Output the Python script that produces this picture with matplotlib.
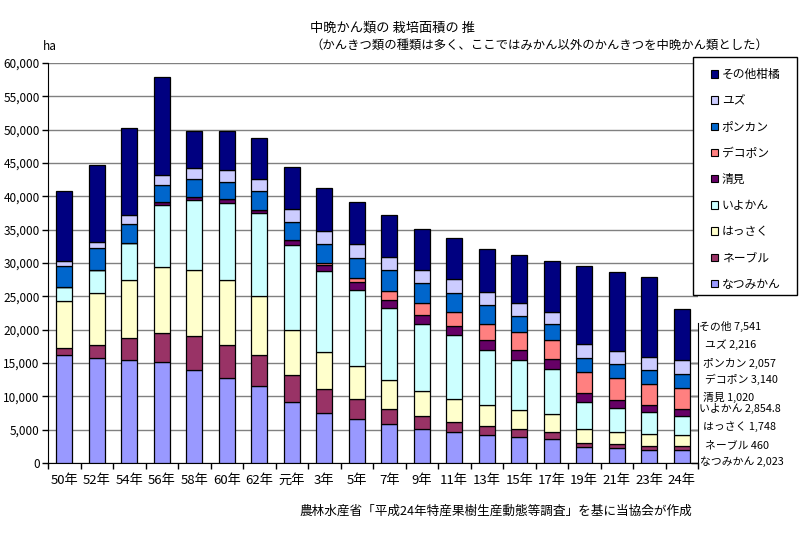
import numpy as np
import matplotlib
matplotlib.use('Agg')
import matplotlib.pyplot as plt
from matplotlib.patches import Patch, Rectangle
from matplotlib.ticker import FuncFormatter

plt.rcParams['font.family'] = ['Noto Sans CJK JP', 'DejaVu Sans']

# 年次 (昭和50年 ~ 平成24年)
years = ['50年', '52年', '54年', '56年', '58年', '60年', '62年', '元年', '3年', '5年',
         '7年', '9年', '11年', '13年', '15年', '17年', '19年', '21年', '23年', '24年']

# 栽培面積 (ha) - グラフから読み取り、24年は注記の値
natsumikan = [16200, 15800, 15500, 15200, 14000, 12800, 11500, 9100, 7450, 6550,
              5800, 5050, 4600, 4180, 3880, 3580, 2390, 2240, 1940, 2023]
neburu = [1100, 1950, 3180, 4330, 5070, 4920, 4630, 4030, 3580, 2990,
          2240, 1940, 1490, 1390, 1190, 1050, 600, 600, 600, 460]
hassaku = [7000, 7760, 8760, 9850, 9850, 9700, 8960, 6870, 5670, 4980,
           4480, 3880, 3580, 3130, 2840, 2690, 2090, 1790, 1790, 1748]
iyokan = [2050, 3430, 5620, 9350, 10550, 11640, 12340, 12690, 12040, 11390,
          10700, 10000, 9550, 8310, 7610, 6820, 4130, 3680, 3280, 2854.8]
kiyomi = [0, 0, 0, 350, 500, 500, 550, 750, 1000, 1240,
          1240, 1340, 1340, 1490, 1490, 1390, 1240, 1100, 1050, 1020]
dekopon = [0, 0, 0, 0, 0, 0, 0, 0, 300, 600,
           1340, 1790, 2040, 2340, 2690, 2990, 3130, 3280, 3130, 3140]
ponkan = [3130, 3280, 2840, 2690, 2690, 2640, 2790, 2690, 2840, 2990,
          3140, 2990, 2840, 2890, 2390, 2390, 2240, 2090, 2090, 2057]
yuzu = [850, 1000, 1340, 1440, 1590, 1790, 1890, 1940, 1940, 2040,
        1890, 1890, 2140, 1940, 1940, 1740, 2040, 2090, 2090, 2216]
sonota = [10450, 11540, 13030, 14730, 5620, 5870, 6020, 6320, 6420, 6320,
          6320, 6170, 6120, 6420, 7160, 7660, 11690, 11790, 11940, 7541]

series = [natsumikan, neburu, hassaku, iyokan, kiyomi, dekopon, ponkan, yuzu, sonota]
legend_names = ['なつみかん', 'ネーブル', 'はっさく', 'いよかん', '清見', 'デコポン', 'ポンカン', 'ユズ', 'その他柑橘']
note_names = ['なつみかん', 'ネーブル', 'はっさく', 'いよかん', '清見', 'デコポン', 'ポンカン', 'ユズ', 'その他']
colors = ['#9999FF', '#993366', '#FFFFCC', '#CCFFFF', '#660066', '#FF8080', '#0066CC', '#CCCCFF', '#000080']

W, H = 802, 535
fig = plt.figure(figsize=(W / 100, H / 100), dpi=100)
ax = fig.add_axes([48 / W, 1 - 463 / H, 650 / W, 400 / H])

# 積み上げ棒
x = np.arange(len(years))
bottom = np.zeros(len(years))
for vals, c in zip(series, colors):
    ax.bar(x, vals, 0.5, bottom=bottom, color=c, edgecolor='black', linewidth=0.9, zorder=3)
    bottom += np.array(vals, dtype=float)

ax.set_xlim(-0.5, len(years) - 0.5)
ax.set_ylim(0, 60000)
ax.set_yticks(np.arange(0, 60001, 5000))
ax.yaxis.set_major_formatter(FuncFormatter(lambda v, p: f'{int(v):,}'))
ax.yaxis.grid(True, color='#808080', linewidth=1)
ax.set_axisbelow(True)
ax.tick_params(axis='y', length=4, width=1, pad=2, labelsize=8.5, colors='black')

ax.set_xticks(x)
ax.set_xticklabels(years, fontsize=9.5)
ax.set_xticks(np.arange(-0.5, len(years), 1), minor=True)
ax.tick_params(axis='x', which='major', length=0, pad=8)
ax.tick_params(axis='x', which='minor', length=4, width=1)

ax.spines['top'].set_visible(False)
ax.spines['right'].set_visible(False)

# 右側の短い軸線 (注記の横)
sec = ax.secondary_yaxis('right')
sec.set_yticks([0, 5000, 10000, 15000, 20000])
sec.tick_params(direction='in', length=5, width=1, labelright=False)
sec.spines['right'].set_bounds(0, 21000)

# タイトル
fig.text(310 / W, 1 - 28 / H, '中晩かん類の 栽培面積の 推', fontsize=9.5, va='center', ha='left')
fig.text(310 / W, 1 - 45 / H, '（かんきつ類の種類は多く、ここではみかん以外のかんきつを中晩かん類とした）',
         fontsize=8.9, va='center', ha='left')
fig.text(43 / W, 1 - 46 / H, 'ha', fontsize=8.5, va='center', ha='left')
fig.text(692 / W, 1 - 511 / H, '農林水産省「平成24年特産果樹生産動態等調査」を基に当協会が作成',
         fontsize=9.1, va='center', ha='right')

# 凡例 (枠は別に描く)
fig.patches.append(Rectangle((693 / W, 1 - 295 / H), 104 / W, 238 / H, transform=fig.transFigure,
                             facecolor='white', edgecolor='black', linewidth=1, zorder=4))
handles = [Patch(facecolor=c, edgecolor='black', linewidth=0.8) for c in colors]
fig.legend(handles[::-1], legend_names[::-1], loc='upper left', bbox_to_anchor=(711 / W, 1 - 68 / H),
           frameon=False, fontsize=8.5, handlelength=0.6, handleheight=0.6, handletextpad=0.3,
           labelspacing=1.12, borderpad=0, borderaxespad=0)

# 24年の内訳注記
note_y = [462, 445, 427, 408, 397, 379, 363, 345, 326]
note_x = [700, 705, 703, 699, 703, 705, 703, 705, 699]
for name, vals, nx, ny in zip(note_names, series, note_x, note_y):
    fig.text(nx / W, 1 - ny / H, f'{name} {vals[-1]:,}', fontsize=7.8, va='center', ha='left')

fig.savefig('out.png', dpi=100)
